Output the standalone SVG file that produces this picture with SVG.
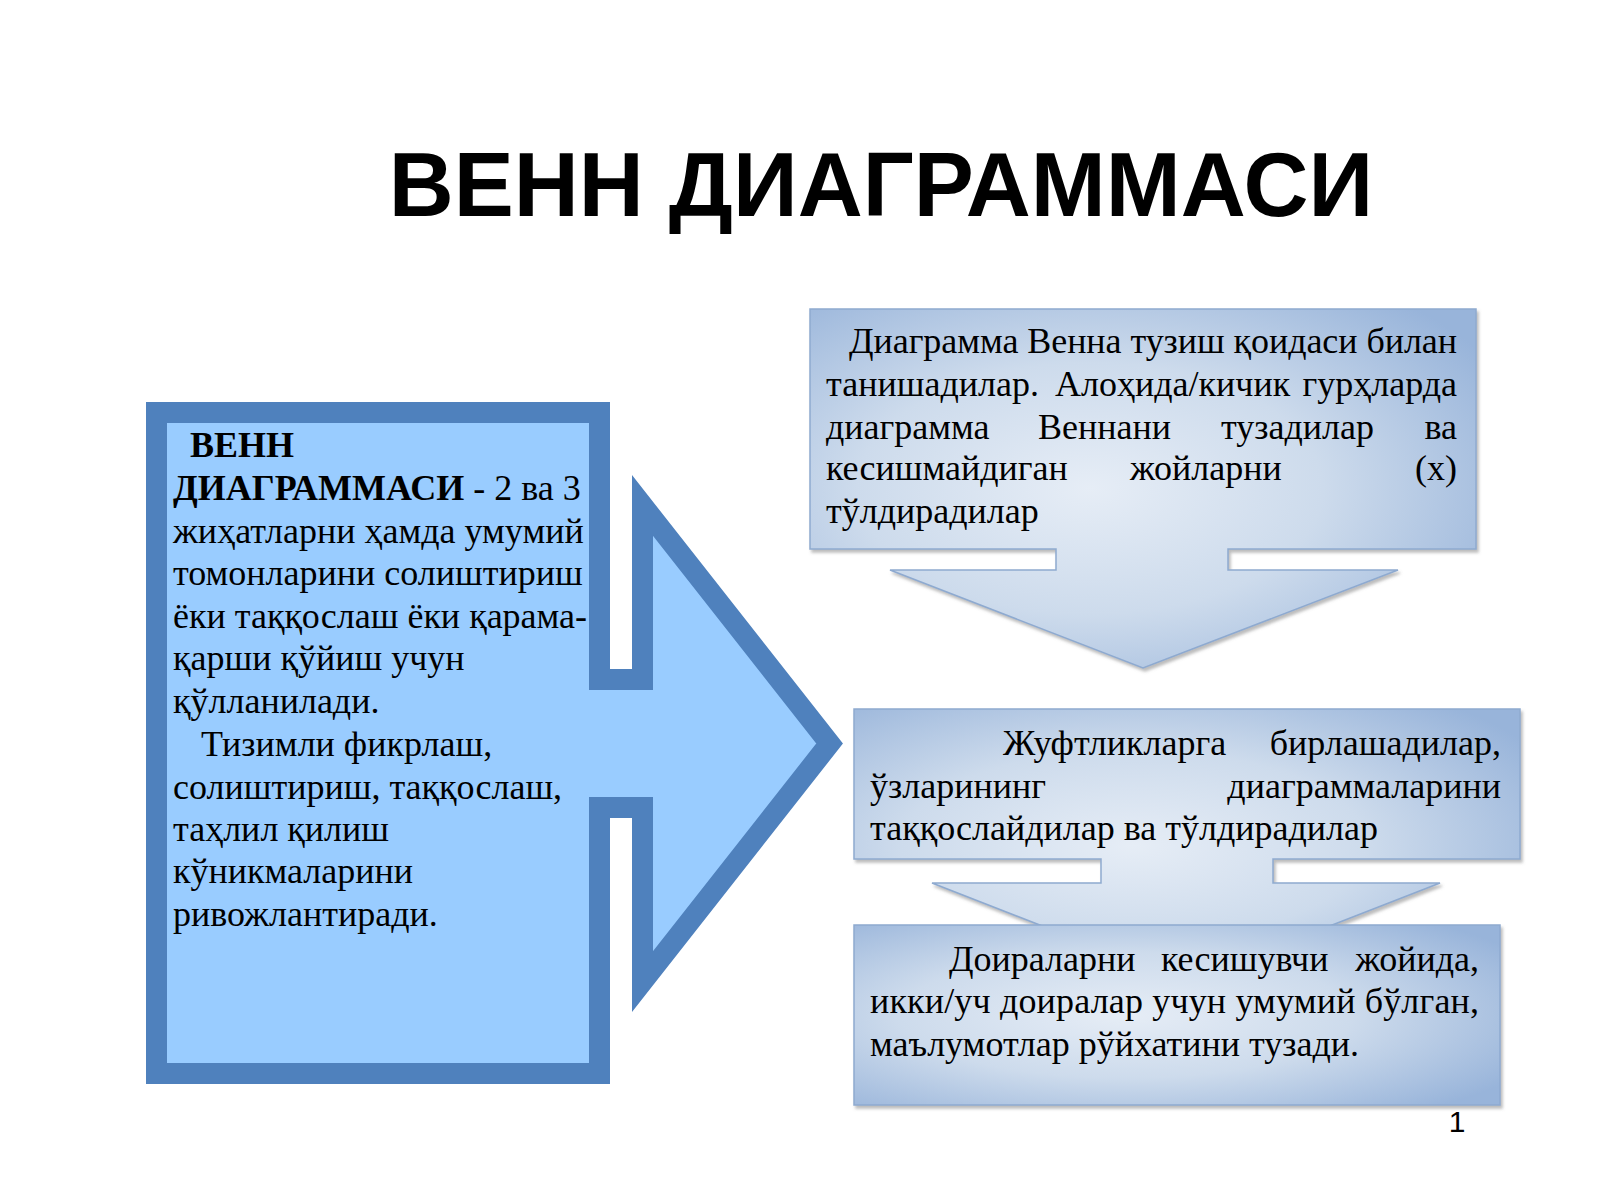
<svg xmlns="http://www.w3.org/2000/svg" width="1600" height="1200" viewBox="0 0 1600 1200">
<defs>
<style>
.t{font-family:"Liberation Serif","Times New Roman",serif;font-size:36px;fill:#000}
.b{font-weight:bold}
.title{font-family:"Liberation Sans",Arial,sans-serif;font-weight:bold;font-size:90px;fill:#000}
.box{stroke:#8eaad0;stroke-width:1.5}
</style>
<radialGradient id="g" cx="0.42" cy="0.5" r="0.7">
<stop offset="0" stop-color="#e6edf6"/>
<stop offset="0.5" stop-color="#cddbec"/>
<stop offset="1" stop-color="#98b4da"/>
</radialGradient>
<filter id="sh" x="-5%" y="-5%" width="110%" height="115%">
<feDropShadow dx="2" dy="3" stdDeviation="1.5" flood-color="#7a7a7a" flood-opacity="0.5"/>
</filter>
</defs>
<rect width="1600" height="1200" fill="#fff"/>
<text class="title" x="881" y="216" text-anchor="middle">ВЕНН ДИАГРАММАСИ</text>

<g id="left">
<path d="M156.5,412.5 H599.5 V679.5 H642.5 V505.4 L829.6,743.5 L642.5,981.6 V807.5 H599.5 V1073.5 H156.5 Z" fill="#99ccff" stroke="#4f81bd" stroke-width="21" stroke-miterlimit="10"/>
<text class="t" x="190" y="457"><tspan class="b">ВЕНН</tspan></text>
<text class="t" x="173" y="500"><tspan class="b">ДИАГРАММАСИ</tspan> - 2 ва 3</text>
<text class="t" x="173" y="543">жиҳатларни ҳамда умумий</text>
<text class="t" x="173" y="585">томонларини солиштириш</text>
<text class="t" x="173" y="628">ёки таққослаш ёки қарама-</text>
<text class="t" x="173" y="670">қарши қўйиш учун</text>
<text class="t" x="173" y="713">қўлланилади.</text>
<text class="t" x="201" y="756">Тизимли фикрлаш,</text>
<text class="t" x="173" y="799">солиштириш, таққослаш,</text>
<text class="t" x="173" y="841">таҳлил қилиш</text>
<text class="t" x="173" y="883">кўникмаларини</text>
<text class="t" x="173" y="926">ривожлантиради.</text>
</g>

<g id="box1">
<path class="box" filter="url(#sh)" fill="url(#g)" d="M810,309 H1476 V549 H1228 V570 H1398 L1143,668 L890,570 H1056 V549 H810 Z"/>
<text class="t" x="849" y="353" textLength="608" lengthAdjust="spacing">Диаграмма Венна тузиш қоидаси билан</text>
<text class="t" x="826" y="396">танишадилар.</text>
<text class="t" x="1055" y="396">Алоҳида/кичик</text>
<text class="t" x="1457" y="396" text-anchor="end">гурҳларда</text>
<text class="t" x="826" y="439">диаграмма</text>
<text class="t" x="1038" y="439">Веннани</text>
<text class="t" x="1221" y="439">тузадилар</text>
<text class="t" x="1457" y="439" text-anchor="end">ва</text>
<text class="t" x="826" y="480">кесишмайдиган</text>
<text class="t" x="1130" y="480">жойларни</text>
<text class="t" x="1457" y="480" text-anchor="end">(x)</text>
<text class="t" x="826" y="523">тўлдирадилар</text>
</g>

<g id="box2">
<path class="box" filter="url(#sh)" fill="url(#g)" d="M854,709 H1520 V859 H1273 V883 H1440 L1186,982 L932,883 H1101 V859 H854 Z"/>
<text class="t" x="1003" y="755">Жуфтликларга</text>
<text class="t" x="1501" y="755" text-anchor="end">бирлашадилар,</text>
<text class="t" x="870" y="798">ўзларининг</text>
<text class="t" x="1501" y="798" text-anchor="end">диаграммаларини</text>
<text class="t" x="870" y="840">таққослайдилар ва тўлдирадилар</text>
</g>

<g id="box3">
<rect class="box" filter="url(#sh)" fill="url(#g)" x="854" y="925" width="646" height="180"/>
<text class="t" x="949" y="971">Доираларни</text>
<text class="t" x="1161" y="971">кесишувчи</text>
<text class="t" x="1479" y="971" text-anchor="end">жойида,</text>
<text class="t" x="870" y="1013" textLength="609" lengthAdjust="spacing">икки/уч доиралар учун умумий бўлган,</text>
<text class="t" x="870" y="1056">маълумотлар рўйхатини тузади.</text>
</g>

<g id="connectors"></g>

<text x="1457" y="1132" text-anchor="middle" font-family="Liberation Sans, Arial, sans-serif" font-size="30" fill="#000">1</text>
</svg>
